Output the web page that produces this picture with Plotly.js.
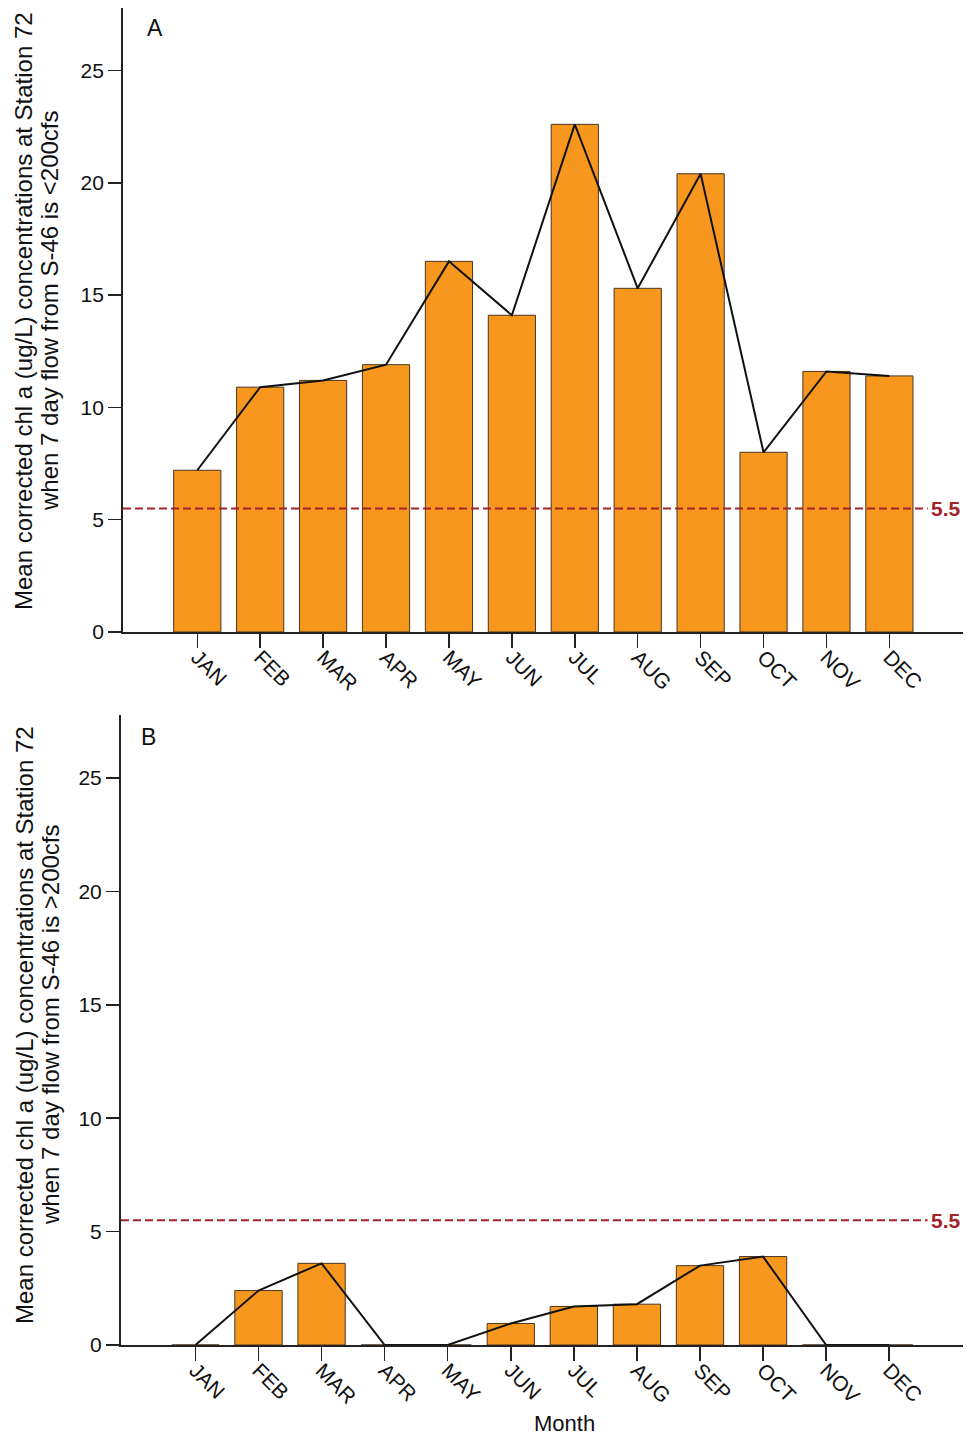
<!DOCTYPE html>
<html>
<head>
<meta charset="utf-8">
<script src="https://cdn.plot.ly/plotly-3.0.1.min.js"></script>
<style>html,body{margin:0;padding:0;background:#fff;}#chart{width:967px;height:1439px;}</style>
</head>
<body>
<div id="chart"></div>
<script>
const months = ['JAN','FEB','MAR','APR','MAY','JUN','JUL','AUG','SEP','OCT','NOV','DEC'];
const chlLowFlow = [7.2, 10.9, 11.2, 11.9, 16.5, 14.1, 22.6, 15.3, 20.4, 8.0, 11.6, 11.4];
const chlHighFlow = [0, 2.4, 3.6, 0, 0, 0.95, 1.7, 1.8, 3.5, 3.9, 0, 0];
const threshold = 5.5;
const yTitleLine1 = 'Mean corrected chl a (ug/L) concentrations at Station 72';
const yTitleLine2A = 'when 7 day flow from S-46 is <200cfs';
const yTitleLine2B = 'when 7 day flow from S-46 is >200cfs';
const xTitle = 'Month';

const FONT = 'Liberation Sans, Arial, sans-serif';
const barColor = '#F7971E';
const barLine = '#4a3520';
const refColor = '#a3232b';

const traces = [
  {type:'bar', x: months, y: chlLowFlow, xaxis:'x', yaxis:'y', width:0.75,
   marker:{color:barColor, line:{color:barLine, width:1}}, showlegend:false},
  {type:'scatter', mode:'lines', x: months, y: chlLowFlow, xaxis:'x', yaxis:'y',
   line:{color:'#111', width:2}, showlegend:false},
  {type:'bar', x: months, y: chlHighFlow, xaxis:'x2', yaxis:'y2', width:0.75,
   marker:{color:barColor, line:{color:barLine, width:1}}, showlegend:false},
  {type:'scatter', mode:'lines', x: months, y: chlHighFlow, xaxis:'x2', yaxis:'y2',
   line:{color:'#111', width:2}, showlegend:false}
];

const xCommon = {
  type:'category', range:[-1.18, 12.17], showline:true, linecolor:'#222', linewidth:2,
  ticks:'outside', ticklen:14, tickwidth:1.5, tickcolor:'#222', tickangle:45, ticklabelstandoff:-11,
  tickfont:{family:FONT, size:21, color:'#111'}, showgrid:false, zeroline:false, fixedrange:true
};
const yCommon = {
  range:[0, 27.78], dtick:5, tick0:0, showline:true, linecolor:'#222', linewidth:2,
  ticks:'outside', ticklen:13, tickwidth:1.5, tickcolor:'#222',
  tickfont:{family:FONT, size:21, color:'#111'}, showgrid:false, zeroline:false, fixedrange:true
};

function yTitle(line, dom, xs, ys) {
  return {text:line, xref:'paper', yref:dom, x:0, y:0.5, xshift:xs, yshift:ys, xanchor:'center', yanchor:'middle',
    textangle:-90, showarrow:false, font:{family:FONT, size:24, color:'#111'}};
}

const layout = {
  width:967, height:1439,
  margin:{l:121, r:4, t:8, b:94},
  paper_bgcolor:'#fff', plot_bgcolor:'#fff',
  font:{family:FONT, color:'#111'},
  xaxis: Object.assign({}, xCommon, {domain:[0.0024, 1], anchor:'y'}),
  yaxis: Object.assign({}, yCommon, {domain:[0.5333, 1], anchor:'x'}),
  xaxis2: Object.assign({}, xCommon, {domain:[0, 1], anchor:'y2'}),
  yaxis2: Object.assign({}, yCommon, {domain:[0, 0.4712], anchor:'x2'}),
  shapes:[
    {type:'line', xref:'x domain', yref:'y', x0:0, x1:0.958, y0:threshold, y1:threshold,
     line:{color:refColor, width:2, dash:'8px,4px'}},
    {type:'line', xref:'x2 domain', yref:'y2', x0:0, x1:0.958, y0:threshold, y1:threshold,
     line:{color:refColor, width:2, dash:'8px,4px'}}
  ],
  annotations:[
    yTitle(yTitleLine1, 'y domain', -97, 9),
    yTitle(yTitleLine2A, 'y domain', -71, 9),
    yTitle(yTitleLine1, 'y2 domain', -97, 5),
    yTitle(yTitleLine2B, 'y2 domain', -71, 5),
    {text:String(threshold), xref:'paper', yref:'y', x:1, y:threshold, xanchor:'right', yanchor:'middle',
     showarrow:false, font:{family:FONT, size:21, color:refColor, weight:'bold'}},
    {text:String(threshold), xref:'paper', yref:'y2', x:1, y:threshold, xanchor:'right', yanchor:'middle',
     showarrow:false, font:{family:FONT, size:21, color:refColor, weight:'bold'}},
    {text:'A', xref:'paper', yref:'y domain', x:0.0404, y:1, yshift:-20, xanchor:'center', yanchor:'middle',
     showarrow:false, font:{family:FONT, size:23, color:'#111'}},
    {text:'B', xref:'paper', yref:'y2 domain', x:0.0321, y:1, yshift:-22, xanchor:'center', yanchor:'middle',
     showarrow:false, font:{family:FONT, size:23, color:'#111'}},
    {text:xTitle, xref:'paper', yref:'paper', x:0.527, y:0, yshift:-78, xanchor:'center', yanchor:'middle',
     showarrow:false, font:{family:FONT, size:22, color:'#111'}}
  ]
};

Plotly.newPlot('chart', traces, layout, {displayModeBar:false, staticPlot:true});
</script>
</body>
</html>
